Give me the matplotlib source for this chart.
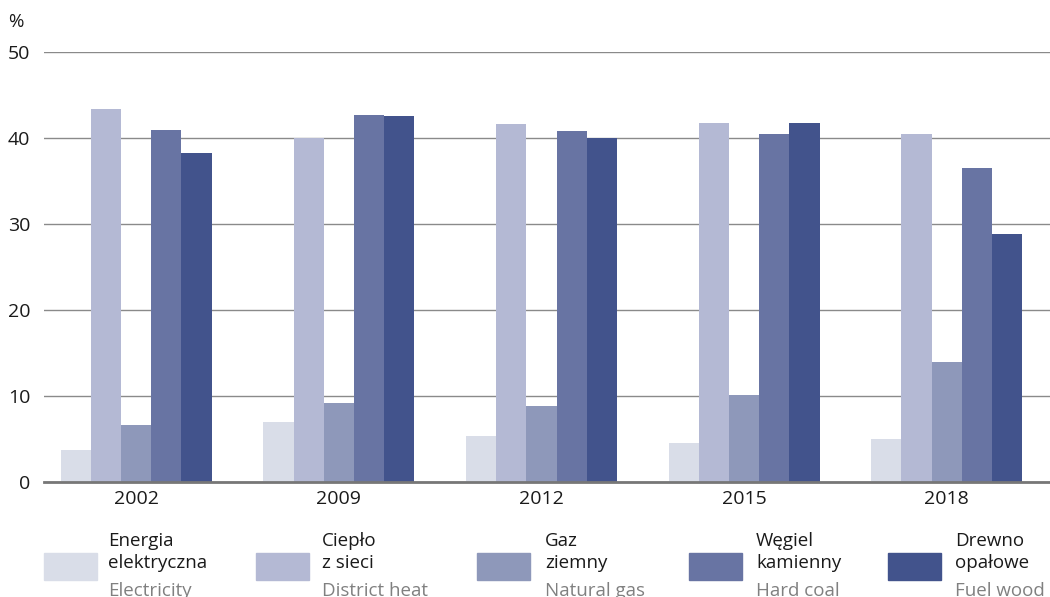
import numpy as np
import matplotlib.pyplot as plt
from matplotlib.patches import Rectangle

plt.rcParams['font.family'] = ['Open Sans', 'DejaVu Sans']

years = ['2002', '2009', '2012', '2015', '2018']
electricity = [3.7, 7.0, 5.3, 4.5, 5.0]
district_heat = [43.4, 40.0, 41.6, 41.7, 40.5]
natural_gas = [6.6, 9.2, 8.8, 10.1, 14.0]
hard_coal = [40.9, 42.7, 40.8, 40.5, 36.5]
fuel_wood = [38.3, 42.6, 40.0, 41.7, 28.8]

labels_pl = [('Energia', 'elektryczna'), ('Ciepło', 'z sieci'), ('Gaz', 'ziemny'),
             ('Węgiel', 'kamienny'), ('Drewno', 'opałowe')]
labels_en = ['Electricity', 'District heat', 'Natural gas', 'Hard coal', 'Fuel wood']
colors = ['#d9dde8', '#b4b9d4', '#8e98ba', '#6874a3', '#42538c']

series = [electricity, district_heat, natural_gas, hard_coal, fuel_wood]

W, H = 1050, 597
fig = plt.figure(figsize=(W / 100, H / 100), dpi=100)
ax = fig.add_axes([44 / W, 1 - 482 / H, 1 - 44 / W, (482 - 52) / H])

x = np.arange(len(years))
w = 0.149
for i, (vals, c) in enumerate(zip(series, colors)):
    ax.bar(x + (i - 2) * w, vals, width=w, color=c, zorder=3)

ax.set_xlim(-0.455, 4.51)
ax.set_ylim(0, 50)
ax.set_yticks([0, 10, 20, 30, 40, 50])
ax.set_xticks(x)
ax.set_xticklabels(years)
ax.yaxis.grid(True, color='#8a8a8a', linewidth=1.0, zorder=0)
ax.tick_params(axis='both', length=0, labelsize=14, colors='#1a1a1a')
ax.tick_params(axis='y', pad=10)
ax.tick_params(axis='x', pad=6)
for s in ['top', 'right', 'left']:
    ax.spines[s].set_visible(False)
ax.spines['bottom'].set_color('#777777')
ax.spines['bottom'].set_linewidth(2)
ax.spines['bottom'].set_zorder(4)

fig.text(8 / W, 1 - 27 / H, '%', fontsize=13.5, color='#1a1a1a', va='baseline')

# legend along the bottom
patch_x = [44, 256, 477, 689, 888]
text_x = [108, 322, 545, 756, 955]
for px, tx, (l1, l2), en, c in zip(patch_x, text_x, labels_pl, labels_en, colors):
    fig.patches.append(Rectangle((px / W, 1 - 580 / H), 53 / W, 27 / H,
                                 transform=fig.transFigure, color=c))
    fig.text(tx / W, 1 - 546 / H, l1, fontsize=13.5, color='#1a1a1a', va='baseline')
    fig.text(tx / W, 1 - 568 / H, l2, fontsize=13.5, color='#1a1a1a', va='baseline')
    fig.text(tx / W, 1 - 596 / H, en, fontsize=13.5, color='#808080', va='baseline')

fig.savefig('out.png', dpi=100)
